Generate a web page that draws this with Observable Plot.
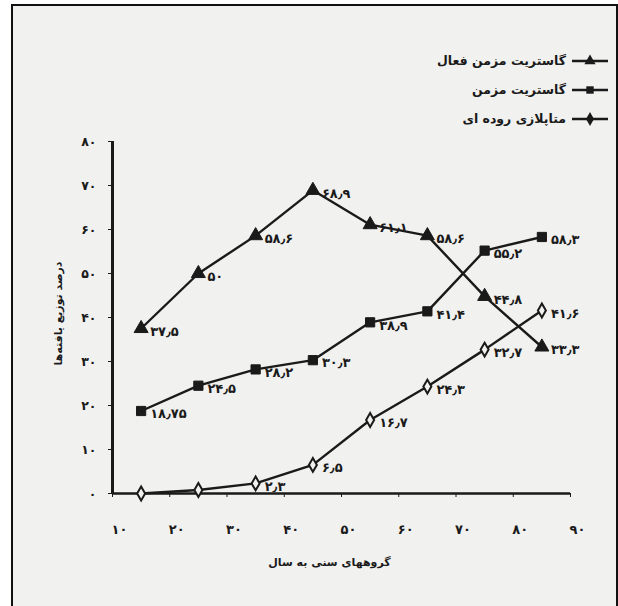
<!DOCTYPE html>
<html><head><meta charset="utf-8">
<script src="https://cdn.jsdelivr.net/npm/d3@7"></script>
<script src="https://cdn.jsdelivr.net/npm/@observablehq/plot@0.6"></script>
<style>
html,body{margin:0;padding:0;background:#fff;}
#wrap{position:relative;width:618px;height:606px;overflow:hidden;font-family:"DejaVu Sans",sans-serif;}
#frame{position:absolute;left:11px;top:4px;width:607px;height:640px;border:2px solid #111;background:#f1f1f0;box-sizing:border-box;}
#chart{position:absolute;left:0;top:0;}
#legend{position:absolute;left:380px;top:46px;width:230px;}
.row{display:flex;flex-direction:row;justify-content:flex-end;align-items:center;height:29px;}
.row span{direction:rtl;font-size:12.5px;font-weight:bold;color:#1a1a1a;margin-right:4px;}
</style></head>
<body><div id="wrap"><div id="frame"></div><div id="chart"></div><div id="legend"></div></div>
<script>
// Age groups (midpoints of 10-year groups)
const ageMid = [15, 25, 35, 45, 55, 65, 75, 85];
// Series values (percent)
const activeGastritis = [37.5, 50, 58.6, 68.9, 61.1, 58.6, 44.8, 33.3];
const chronicGastritis = [18.75, 24.5, 28.2, 30.3, 38.9, 41.4, 55.2, 58.3];
const metaplasia = [0, 0.8, 2.3, 6.5, 16.7, 24.3, 32.7, 41.6];
// Value labels as printed
const activeLabels = ["۳۷٫۵", "۵۰", "۵۸٫۶", "۶۸٫۹", "۶۱٫۱", "۵۸٫۶", "۴۴٫۸", "۳۳٫۳"];
const chronicLabels = ["۱۸٫۷۵", "۲۴٫۵", "۲۸٫۲", "۳۰٫۳", "۳۸٫۹", "۴۱٫۴", "۵۵٫۲", "۵۸٫۳"];
const metaplasiaLabels = ["", "", "۲٫۳", "۶٫۵", "۱۶٫۷", "۲۴٫۳", "۳۲٫۷", "۴۱٫۶"];
// Series names
const seriesNames = ["گاستریت مزمن فعال", "گاستریت مزمن", "متاپلازی روده ای"];
const seriesSymbols = ["triangle", "square", "diamond"];
// Tick values and labels
const xTicks = [10, 20, 30, 40, 50, 60, 70, 80, 90];
const xTickLabels = ["۱۰", "۲۰", "۳۰", "۴۰", "۵۰", "۶۰", "۷۰", "۸۰", "۹۰"];
const yTicks = [0, 10, 20, 30, 40, 50, 60, 70, 80];
const yTickLabels = ["۰", "۱۰", "۲۰", "۳۰", "۴۰", "۵۰", "۶۰", "۷۰", "۸۰"];
const xTitle = "گروههای سنی به سال";
const yTitle = "درصد توزیع یافته‌ها";

const ink = "#1a1a1a";
const toRows = (vals, labels) => ageMid.map((x, i) => ({x, y: vals[i], label: labels[i]}));
const sets = [toRows(activeGastritis, activeLabels), toRows(chronicGastritis, chronicLabels), toRows(metaplasia, metaplasiaLabels)];

const marks = [
  Plot.ruleY([0], {stroke: ink, strokeWidth: 2.5}),
  Plot.ruleX([10], {stroke: ink, strokeWidth: 3}),
  Plot.axisY(yTicks, {tickSize: 4, tickPadding: 12, tickFormat: d => yTickLabels[yTicks.indexOf(d)], label: null, fontSize: 12.5, fontWeight: "bold"}),
  Plot.axisX(xTicks, {tickSize: 4, tickFormat: () => "", label: null}),
  Plot.axisX(xTicks, {tickSize: 0, tickPadding: 31, dx: 7, tickFormat: d => xTickLabels[xTicks.indexOf(d)], label: null, fontSize: 13, fontWeight: "bold"}),
  Plot.text([xTitle], {frameAnchor: "bottom", dy: 72, dx: -12, fontSize: 11, fontWeight: "bold", fill: ink}),
  Plot.text([yTitle], {frameAnchor: "left", rotate: -90, dx: -54, dy: 48, fontSize: 11, fontWeight: "bold", fill: ink})
];
sets.forEach((rows, k) => {
  marks.push(Plot.line(rows, {x: "x", y: "y", stroke: ink, strokeWidth: 2.4}));
  const sym = seriesSymbols[k];
  marks.push(Plot.dot(rows, {x: "x", y: "y", symbol: sym, r: sym === "diamond" ? 4.2 : 5.2,
    fill: sym === "diamond" ? "#f1f1f0" : ink, stroke: ink, strokeWidth: sym === "diamond" ? 2 : 1}));
  marks.push(Plot.text(rows.filter(d => d.label), {x: "x", y: "y", text: "label", dx: 9, dy: 3, textAnchor: "start", fontSize: 13, fontWeight: "bold", fill: ink}));
});

const chart = Plot.plot({
  width: 618, height: 606,
  marginLeft: 112, marginRight: 48, marginTop: 141, marginBottom: 113,
  style: {background: "transparent", fontFamily: "DejaVu Sans", color: ink, overflow: "visible"},
  x: {domain: [10, 90]},
  y: {domain: [0, 80]},
  marks
});
document.getElementById("chart").appendChild(chart);

// Legend
const legend = document.getElementById("legend");
seriesNames.forEach((name, k) => {
  const row = document.createElement("div");
  row.className = "row";
  const span = document.createElement("span");
  span.textContent = name;
  row.appendChild(span);
  const sw = d3.create("svg").attr("width", 40).attr("height", 14);
  sw.append("line").attr("x1", 2).attr("x2", 38).attr("y1", 7).attr("y2", 7).attr("stroke", ink).attr("stroke-width", 2.5);
  const sym = d3.symbol().type(k === 0 ? d3.symbolTriangle : k === 1 ? d3.symbolSquare : d3.symbolDiamond).size(55);
  sw.append("path").attr("d", sym()).attr("transform", "translate(20,7)").attr("fill", ink);
  row.appendChild(sw.node());
  legend.appendChild(row);
});
</script></body></html>
